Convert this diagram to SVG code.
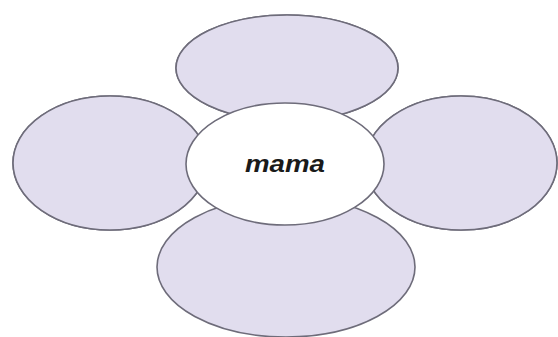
<svg xmlns="http://www.w3.org/2000/svg" xmlns:xlink="http://www.w3.org/1999/xlink" width="558" height="337" viewBox="0 0 558 337">
<style>
.petal{fill:#e1ddee;stroke:#6e6c7a;stroke-width:1.6}
.outline{fill:none;stroke:#6e6c7a;stroke-width:1.6}
.center{fill:#ffffff;stroke:#6e6c7a;stroke-width:1.6}
.label{font-family:"Liberation Sans",Arial,sans-serif;font-style:italic;font-weight:bold;font-size:24px;fill:#1a1a1a}
</style>
<rect width="558" height="337" fill="#ffffff"/>
<g id="petal-top"><ellipse id="e-top" class="petal" cx="287" cy="68" rx="111" ry="53"/></g>
<g id="petal-left"><ellipse id="e-left" class="petal" cx="110" cy="163" rx="97" ry="67"/></g>
<g id="petal-right"><ellipse id="e-right" class="petal" cx="461" cy="163" rx="96" ry="67"/></g>
<g id="petal-bottom"><ellipse id="e-bottom" class="petal" cx="286" cy="267" rx="129" ry="70"/></g>
<g id="petal-outlines">
<use xlink:href="#e-top" class="outline"/>
<use xlink:href="#e-left" class="outline"/>
<use xlink:href="#e-right" class="outline"/>
</g>
<g id="center-node">
<ellipse class="center" cx="285" cy="164" rx="99" ry="61"/>
<text class="label" x="285" y="172" text-anchor="middle" textLength="80" lengthAdjust="spacingAndGlyphs">mama</text>
</g>
</svg>
